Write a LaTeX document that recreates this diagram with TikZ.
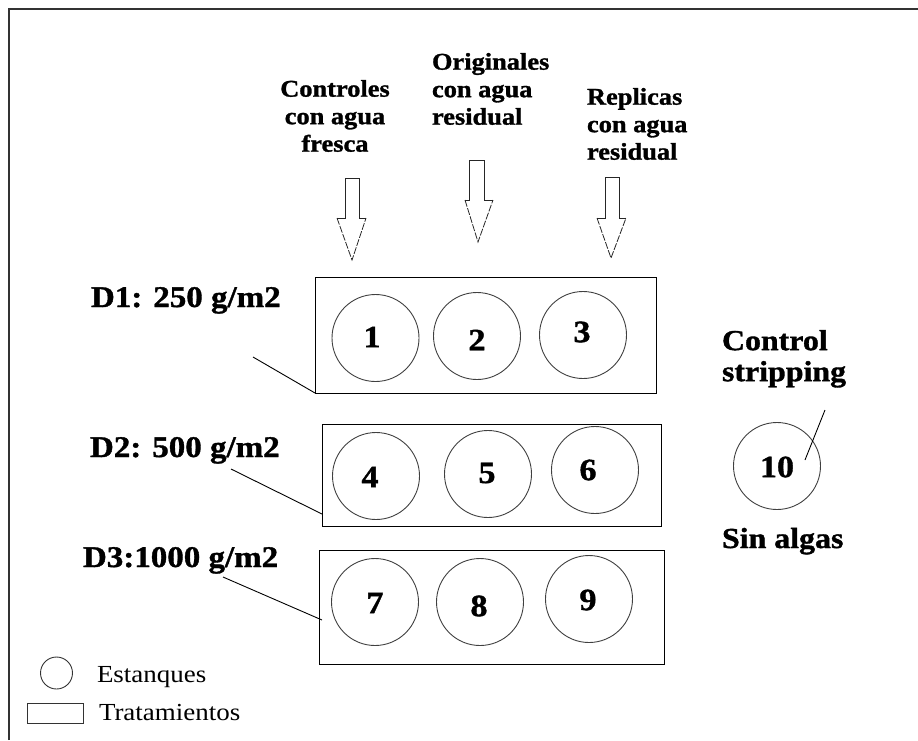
\documentclass[tikz,border=0pt]{standalone}
\usepackage{fontspec}
\setmainfont{Liberation Serif}[FakeStretch=1.1,BoldFeatures={FakeBold=1.2}]
\begin{document}
\begin{tikzpicture}[x=1pt,y=-1pt,
  every node/.style={inner sep=0pt,outer sep=0pt},
  tbox/.style={draw=black,line width=1pt},
  pond/.style={circle,draw=black!75,line width=0.9pt,minimum size=87pt},
  num/.style={font=\fontsize{31}{31}\selectfont\bfseries},
  toplab/.style={font=\fontsize{24}{27.5}\selectfont\bfseries},
  dlab/.style={font=\fontsize{30}{34}\selectfont\bfseries},
  sidelab/.style={font=\fontsize{29}{31}\selectfont\bfseries},
  leglab/.style={font=\fontsize{24.5}{28}\selectfont},
  pointer/.style={draw=black,line width=0.9pt},
  shaft/.style={draw=black!85,line width=0.9pt},
  head/.style={draw=black!85,line width=0.8pt,dash pattern=on 7pt off 1.5pt}
]
\useasboundingbox (0,0) rectangle (918,740);
% frame (top and left edges visible)
\draw[black!80,line width=1.5pt] (9,740) -- (9,9) -- (918,9);

% treatment boxes
\node[tbox,minimum width=341pt,minimum height=116pt] (b1) at (485.5,335) {};
\node[tbox,minimum width=339pt,minimum height=102pt] (b2) at (491.5,475) {};
\node[tbox,minimum width=345pt,minimum height=114pt] (b3) at (491.5,607) {};

% ponds
\node[pond] (c1) at (375.5,338) {};
\node[pond] (c2) at (477,336) {};
\node[pond] (c3) at (583,335) {};
\node[pond] (c4) at (376,476) {};
\node[pond] (c5) at (488,474) {};
\node[pond] (c6) at (595,470) {};
\node[pond] (c7) at (375,602) {};
\node[pond] (c8) at (480,602) {};
\node[pond] (c9) at (589,599) {};
\node[pond] (c10) at (777,466) {};

\node[num] (n1) at (372,337) {1};
\node[num] (n2) at (477,340) {2};
\node[num] (n3) at (582,332) {3};
\node[num] (n4) at (370,477) {4};
\node[num] (n5) at (487,473) {5};
\node[num] (n6) at (588,470) {6};
\node[num] (n7) at (375,603) {7};
\node[num] (n8) at (479,606) {8};
\node[num] (n9) at (588,600) {9};
\node[num] (n10) at (777,467) {10};

% top labels
\node[toplab,align=center,anchor=north] (tc) at (335,80) {Controles\\con agua\\fresca};
\node[toplab,align=left,anchor=north west] (to) at (432,53) {Originales\\con agua\\residual};
\node[toplab,align=left,anchor=north west] (tr) at (587,88) {Replicas\\con agua\\residual};

% block arrows
\draw[shaft] (337,218) -- (345,218) -- (345,178) -- (359,178) -- (359,218) -- (366,218);
\draw[head] (337,218) -- (352,260) -- (366,218);
\draw[shaft] (465,200) -- (469,200) -- (469,160) -- (484,160) -- (484,200) -- (493,200);
\draw[head] (465,200) -- (478,242) -- (493,200);
\draw[shaft] (597,218) -- (605,218) -- (605,177) -- (619,177) -- (619,218) -- (626,218);
\draw[head] (597,218) -- (611,258) -- (626,218);

% density labels
\node[dlab,anchor=base west] (d1) at (91,307) {D1: 250 g/m2};
\node[dlab,anchor=base west] (d2) at (90,457) {D2: 500 g/m2};
\node[dlab,anchor=base west] (d3) at (83,567) {D3:1000 g/m2};
\coordinate (p1) at (253,357);
\coordinate (p2) at (231,469);
\coordinate (p3) at (223,577);
\draw[pointer] (p1) -- (b1.south west);
\draw[pointer] (p2) -- (322,514);
\draw[pointer] (p3) -- (322,620);

% control
\node[sidelab,align=left,anchor=north west] (cs) at (722,330) {Control\\stripping};
\node[sidelab,anchor=base west] (sa) at (722,548) {Sin algas};
\coordinate (q1) at (825,410);
\coordinate (q2) at (805,460);
\draw[pointer] (q1) -- (q2);

% legend
\node[circle,draw=black!80,line width=0.9pt,minimum size=32pt] (lc) at (56.5,673) {};
\node[draw=black!80,line width=0.9pt,minimum width=56pt,minimum height=20pt] (lr) at (55,713) {};
\node[leglab,anchor=base west] (le) at (97,682) {Estanques};
\node[leglab,anchor=base west] (lt) at (99,720) {Tratamientos};
\end{tikzpicture}
\end{document}
